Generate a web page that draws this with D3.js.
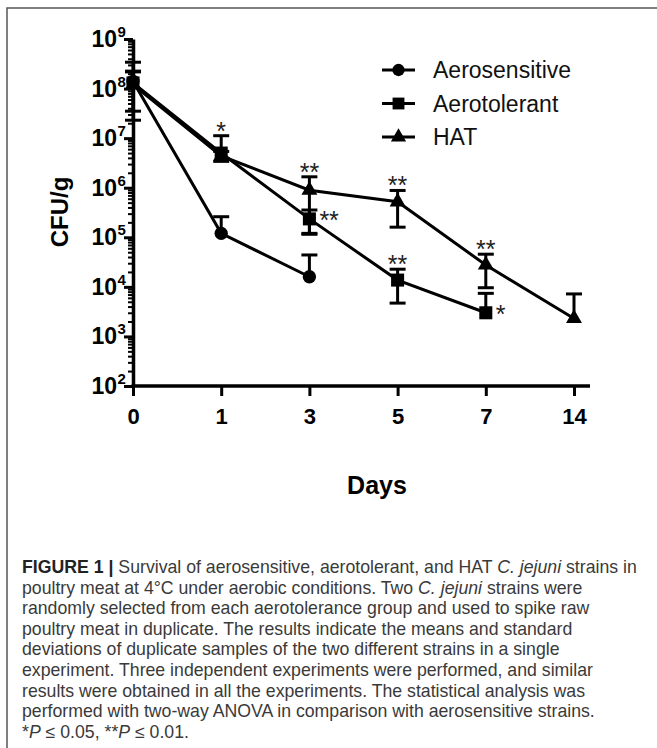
<!DOCTYPE html>
<html>
<head>
<meta charset="utf-8">
<script src="https://cdn.jsdelivr.net/npm/d3@7"></script>
<style>
body { margin: 0; background: #fff; }
svg { display: block; font-family: "Liberation Sans", Arial, sans-serif; }
</style>
</head>
<body>
<svg width="657" height="748"></svg>
<script>
const days = ["0", "1", "3", "5", "7", "14"];
const seriesNames = ["Aerosensitive", "Aerotolerant", "HAT"];
const seriesSymbols = [d3.symbolCircle, d3.symbolSquare, d3.symbolTriangle];

// mean and SD (CFU/g) per day
const aerosensitiveMean = [1.4e8, 1.2e5, 1.6e4];
const aerosensitiveSD = [2.0e8, 1.4e5, 2.8e4];
const aerotolerantMean = [1.3e8, 5.0e6, 2.35e5, 1.37e4, 3.0e3];
const aerotolerantSD = [0.95e8, 6.2e6, 1.2e5, 9e3, 4.4e3];
const hatMean = [1.2e8, 4.4e6, 8.9e5, 5.2e5, 2.76e4, 2.3e3];
const hatSD = [0.97e8, 1.0e6, 7.7e5, 3.6e5, 1.8e4, 4.9e3];

const seriesMeans = [aerosensitiveMean, aerotolerantMean, hatMean];
const seriesSDs = [aerosensitiveSD, aerotolerantSD, hatSD];

// significance marks: day, series index, text, where it sits
const sigDay = ["1", "3", "3", "5", "5", "7", "7"];
const sigSeries = [1, 2, 1, 2, 1, 2, 1];
const sigText = ["*", "**", "**", "**", "**", "**", "*"];
const sigSide = ["top", "top", "right", "top", "top", "top", "right"];

const yExponents = [2, 3, 4, 5, 6, 7, 8, 9];

const captionLines = [
    [["FIGURE 1 |", "b"], [" Survival of aerosensitive, aerotolerant, and HAT "], ["C. jejuni", "i"], [" strains in"]],
    [["poultry meat at 4°C under aerobic conditions. Two "], ["C. jejuni", "i"], [" strains were"]],
    [["randomly selected from each aerotolerance group and used to spike raw"]],
    [["poultry meat in duplicate. The results indicate the means and standard"]],
    [["deviations of duplicate samples of the two different strains in a single"]],
    [["experiment. Three independent experiments were performed, and similar"]],
    [["results were obtained in all the experiments. The statistical analysis was"]],
    [["performed with two-way ANOVA in comparison with aerosensitive strains."]],
    [["*"], ["P", "i"], [" ≤ 0.05, **"], ["P", "i"], [" ≤ 0.01."]]
];

const svg = d3.select("svg");

// frame
svg.append("path")
    .attr("d", "M7,748V8H657")
    .attr("fill", "none")
    .attr("stroke", "#555")
    .attr("stroke-width", 1.5);

const x = d3.scalePoint().domain(days).range([133, 574]);
const y = d3.scaleLog().domain([1e2, 1e9]).range([386, 39]);

const g = svg.append("g");

// y axis: minor ticks, then major ticks
const minorTicks = y.ticks().filter(function(v) {
    return Math.abs(Math.log10(v) - Math.round(Math.log10(v))) > 1e-6;
});
g.append("g")
    .attr("transform", "translate(" + x("0") + ",0)")
    .call(d3.axisLeft(y).tickValues(minorTicks).tickSize(5).tickSizeOuter(0).tickFormat(""))
    .call(function(a) { a.select(".domain").remove(); })
    .selectAll("line").attr("stroke-width", 2);

const yAxis = g.append("g")
    .attr("transform", "translate(" + x("0") + ",0)")
    .call(d3.axisLeft(y).tickValues(yExponents.map(function(e) { return Math.pow(10, e); }))
        .tickSize(9).tickSizeOuter(0).tickFormat(""));
yAxis.select(".domain").attr("stroke-width", 3.5);
yAxis.selectAll(".tick line").attr("stroke-width", 3);

// y tick labels 10^n
const yLabels = g.append("g");
yExponents.forEach(function(e) {
    yLabels.append("text")
        .attr("x", 117)
        .attr("y", y(Math.pow(10, e)) + 8)
        .attr("text-anchor", "end")
        .attr("font-weight", "bold")
        .attr("font-size", 23)
        .text("10");
    yLabels.append("text")
        .attr("x", 117.5)
        .attr("y", y(Math.pow(10, e)) - 2)
        .attr("font-weight", "bold")
        .attr("font-size", 15)
        .text(e);
});

// x axis
const xAxis = g.append("g")
    .attr("transform", "translate(0," + y(1e2) + ")")
    .call(d3.axisBottom(x).tickSize(10).tickSizeOuter(0).tickPadding(12));
xAxis.select(".domain").remove();
xAxis.append("line")
    .attr("x1", x("0") - 1.5).attr("x2", 590)
    .attr("stroke", "#000").attr("stroke-width", 3.5);
xAxis.selectAll(".tick line").attr("stroke-width", 3);
xAxis.selectAll(".tick text")
    .attr("font-size", 22)
    .attr("font-weight", "bold")
    .attr("font-family", "Liberation Sans, Arial, sans-serif")
    .attr("fill", "#000");

// axis titles
svg.append("text")
    .attr("transform", "translate(68,212) rotate(-90)")
    .attr("text-anchor", "middle")
    .attr("font-weight", "bold")
    .attr("font-size", 24)
    .text("CFU/g");

svg.append("text")
    .attr("x", 377)
    .attr("y", 494)
    .attr("text-anchor", "middle")
    .attr("font-weight", "bold")
    .attr("font-size", 25)
    .text("Days");

// series
const line = d3.line()
    .x(function(d, i) { return x(days[i]); })
    .y(function(d) { return y(d); });

const capW = 16;
seriesMeans.forEach(function(means, s) {
    const sds = seriesSDs[s];
    const sg = g.append("g");

    sg.append("path")
        .datum(means)
        .attr("d", line)
        .attr("fill", "none")
        .attr("stroke", "#000")
        .attr("stroke-width", 3);

    means.forEach(function(m, i) {
        const cx = x(days[i]);
        const top = y(m + sds[i]);
        const low = m - sds[i] > 0 ? y(m - sds[i]) : null;
        sg.append("line")
            .attr("x1", cx).attr("x2", cx)
            .attr("y1", top).attr("y2", low === null ? y(m) : low)
            .attr("stroke", "#000").attr("stroke-width", 3);
        sg.append("line")
            .attr("x1", cx - capW / 2).attr("x2", cx + capW / 2)
            .attr("y1", top).attr("y2", top)
            .attr("stroke", "#000").attr("stroke-width", 3);
        if (low !== null) {
            sg.append("line")
                .attr("x1", cx - capW / 2).attr("x2", cx + capW / 2)
                .attr("y1", low).attr("y2", low)
                .attr("stroke", "#000").attr("stroke-width", 3);
        }
    });

    sg.selectAll("path.marker")
        .data(means)
        .join("path")
        .attr("class", "marker")
        .attr("transform", function(d, i) { return "translate(" + x(days[i]) + "," + y(d) + ")"; })
        .attr("d", d3.symbol().type(seriesSymbols[s]).size(s === 0 ? 140 : s === 1 ? 170 : 110))
        .attr("fill", "#000");
});

// significance asterisks
sigDay.forEach(function(d, k) {
    const s = sigSeries[k];
    const i = days.indexOf(d);
    const m = seriesMeans[s][i];
    const sd = seriesSDs[s][i];
    const t = g.append("text")
        .attr("font-size", 25)
        .attr("fill", "#222")
        .text(sigText[k]);
    if (sigSide[k] === "top") {
        t.attr("x", x(d)).attr("y", y(m + sd) + 4).attr("text-anchor", "middle");
    } else {
        t.attr("x", x(d) + 10).attr("y", y(m) + 10).attr("text-anchor", "start");
    }
});

// legend
const legend = svg.append("g").attr("transform", "translate(382,70)");
seriesNames.forEach(function(name, s) {
    const row = legend.append("g").attr("transform", "translate(0," + (s * 33.5) + ")");
    row.append("line")
        .attr("x1", 0).attr("x2", 33)
        .attr("stroke", "#000").attr("stroke-width", 3);
    row.append("path")
        .attr("transform", "translate(16.5,0)")
        .attr("d", d3.symbol().type(seriesSymbols[s]).size(s === 0 ? 120 : s === 1 ? 140 : 100))
        .attr("fill", "#000");
    row.append("text")
        .attr("x", 51)
        .attr("y", 8)
        .attr("font-size", 23)
        .attr("fill", "#111")
        .text(name);
});

// caption
const cap = svg.append("g");
captionLines.forEach(function(parts, li) {
    const t = cap.append("text")
        .attr("x", 22)
        .attr("y", 573 + li * 20.6)
        .attr("font-size", 17.7)
        .attr("fill", "#3a3a3a");
    parts.forEach(function(p) {
        const ts = t.append("tspan").text(p[0]);
        if (p[1] === "b") ts.attr("font-weight", "bold").attr("fill", "#222");
        if (p[1] === "i") ts.attr("font-style", "italic");
    });
});
</script>
</body>
</html>
